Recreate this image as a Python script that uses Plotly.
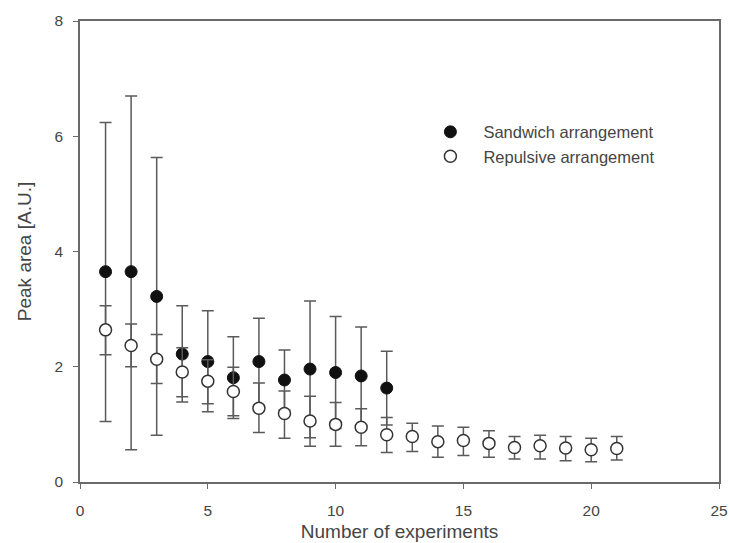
import plotly.graph_objects as go

# Experiment index
x_sandwich = list(range(1, 13))
x_repulsive = list(range(1, 22))

# Sandwich arrangement: mean peak area and error-bar bounds
sandwich_mean = [3.65, 3.65, 3.22, 2.22, 2.09, 1.81, 2.09, 1.77, 1.96, 1.90, 1.84, 1.63]
sandwich_upper = [6.24, 6.70, 5.63, 3.06, 2.97, 2.52, 2.84, 2.29, 3.14, 2.87, 2.69, 2.27]
sandwich_lower = [1.05, 0.56, 0.81, 1.39, 1.22, 1.10, 1.33, 1.25, 0.77, 0.93, 0.99, 0.99]

# Repulsive arrangement: mean peak area and error-bar bounds
repulsive_mean = [2.64, 2.37, 2.13, 1.91, 1.75, 1.57, 1.28, 1.19, 1.06, 1.00, 0.95,
                  0.82, 0.79, 0.70, 0.72, 0.67, 0.60, 0.63, 0.59, 0.56, 0.58]
repulsive_upper = [3.06, 2.74, 2.56, 2.33, 2.12, 1.99, 1.72, 1.58, 1.49, 1.38, 1.27,
                   1.12, 1.02, 0.97, 0.95, 0.89, 0.79, 0.81, 0.79, 0.76, 0.79]
repulsive_lower = [2.21, 2.00, 1.71, 1.48, 1.36, 1.15, 0.86, 0.76, 0.62, 0.62, 0.63,
                   0.51, 0.53, 0.43, 0.46, 0.43, 0.40, 0.40, 0.37, 0.35, 0.38]


def err(mean, upper, lower):
    plus = [u - m for m, u in zip(mean, upper)]
    minus = [m - l for m, l in zip(mean, lower)]
    return plus, minus


s_plus, s_minus = err(sandwich_mean, sandwich_upper, sandwich_lower)
r_plus, r_minus = err(repulsive_mean, repulsive_upper, repulsive_lower)

ERR_COLOR = "#5a5a5a"
AXIS_COLOR = "#6a6a6a"
TEXT_COLOR = "#454545"
FONT = "Liberation Sans, Arial, sans-serif"

fig = go.Figure()
fig.add_trace(go.Scatter(
    x=x_sandwich, y=sandwich_mean, mode="markers", name="Sandwich arrangement",
    marker=dict(symbol="circle", size=12, color="#111111",
                line=dict(color="#111111", width=1)),
    error_y=dict(type="data", symmetric=False, array=s_plus, arrayminus=s_minus,
                 color=ERR_COLOR, thickness=1.5, width=6),
))
fig.add_trace(go.Scatter(
    x=x_repulsive, y=repulsive_mean, mode="markers", name="Repulsive arrangement",
    marker=dict(symbol="circle", size=12, color="white",
                line=dict(color="#333333", width=1.5)),
    error_y=dict(type="data", symmetric=False, array=r_plus, arrayminus=r_minus,
                 color=ERR_COLOR, thickness=1.5, width=6),
))

axis_common = dict(
    showline=True, linecolor=AXIS_COLOR, linewidth=1.5, mirror=True,
    ticks="outside", ticklen=5, tickwidth=1.2, tickcolor=AXIS_COLOR,
    showgrid=False, zeroline=False, automargin=False,
    tickfont=dict(family=FONT, size=15.5, color=TEXT_COLOR),
)

fig.update_xaxes(
    range=[0, 25], tickvals=[0, 5, 10, 15, 20, 25], ticklabelstandoff=9,
    title=dict(text="Number of experiments", standoff=6,
               font=dict(family=FONT, size=19, color=TEXT_COLOR)),
    **axis_common,
)
fig.update_yaxes(
    range=[0, 8], tickvals=[0, 2, 4, 6, 8], ticklabelstandoff=7,
    title=dict(text="Peak area [A.U.]", standoff=18,
               font=dict(family=FONT, size=19, color=TEXT_COLOR)),
    **axis_common,
)

fig.update_layout(
    width=729, height=543,
    margin=dict(l=80, r=10, t=21, b=61),
    paper_bgcolor="white", plot_bgcolor="white",
    showlegend=True,
    legend=dict(
        x=0.528, y=0.797, xanchor="left", yanchor="top",
        bgcolor="rgba(0,0,0,0)", itemwidth=56,
        font=dict(family=FONT, size=16.5, color=TEXT_COLOR),
        tracegroupgap=0,
    ),
)

fig.write_html("out.html")
